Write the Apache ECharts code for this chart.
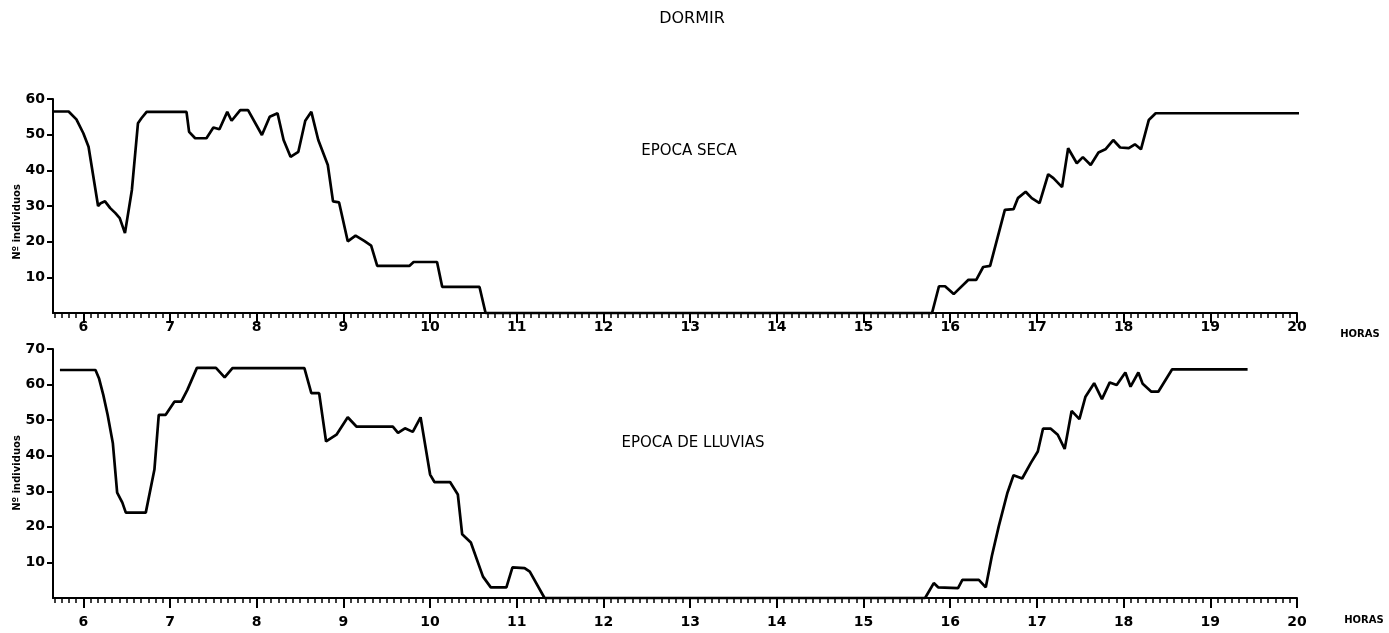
<!DOCTYPE html>
<html>
<head>
<meta charset="utf-8">
<script src="https://cdn.jsdelivr.net/npm/echarts@6/dist/echarts.min.js"></script>
<style>
html,body{margin:0;padding:0;background:#fff;}
#chart{width:1389px;height:633px;}
</style>
</head>
<body>
<div id="chart"></div>
<script>
// ---- Data ----
const hourLabels = [6,7,8,9,10,11,12,13,14,15,16,17,18,19,20];
const secaTicksY = [10,20,30,40,50,60];
const lluviasTicksY = [10,20,30,40,50,60,70];

const secaHours = [5.65,5.83,5.92,6.00,6.06,6.17,6.20,6.25,6.31,6.37,6.42,6.48,6.56,6.63,6.67,6.73,7.19,7.22,7.29,7.42,7.50,7.57,7.66,7.71,7.81,7.90,8.06,8.15,8.24,8.31,8.39,8.48,8.56,8.63,8.71,8.82,8.88,8.95,9.05,9.14,9.24,9.32,9.39,9.76,9.81,10.08,10.14,10.57,10.64,15.79,15.87,15.94,16.04,16.21,16.30,16.38,16.46,16.63,16.73,16.78,16.87,16.94,17.03,17.13,17.19,17.29,17.36,17.46,17.53,17.62,17.71,17.79,17.88,17.96,18.06,18.13,18.20,18.29,18.37,20.48];
const secaValues = [56.5,56.5,54.3,50.4,46.6,30.0,30.8,31.3,29.4,28.0,26.6,22.4,34.5,53.2,54.6,56.4,56.4,50.8,49.0,49.0,52.0,51.5,56.4,53.9,56.9,56.9,49.9,55.0,56.0,48.5,43.8,45.2,53.9,56.4,48.5,41.5,31.3,31.0,20.1,21.7,20.2,18.9,13.2,13.2,14.3,14.3,7.3,7.3,0,0,7.5,7.5,5.3,9.3,9.3,12.9,13.2,28.9,29.1,32.2,34.0,32.2,30.8,38.9,37.8,35.3,46.2,42.0,43.7,41.5,45.0,45.9,48.5,46.4,46.2,47.3,45.9,54.1,56.0,56.0];

const lluviasHours = [5.73,6.14,6.18,6.23,6.28,6.34,6.39,6.45,6.49,6.72,6.82,6.87,6.95,7.05,7.13,7.20,7.31,7.53,7.63,7.72,8.55,8.63,8.72,8.80,8.92,9.05,9.15,9.57,9.63,9.71,9.80,9.89,10.00,10.05,10.23,10.32,10.37,10.47,10.61,10.70,10.88,10.95,11.09,11.15,11.32,15.71,15.81,15.86,16.09,16.14,16.33,16.41,16.48,16.56,16.66,16.73,16.83,16.93,17.01,17.07,17.16,17.24,17.32,17.40,17.49,17.56,17.66,17.75,17.84,17.92,18.02,18.08,18.17,18.22,18.32,18.40,18.56,19.43];
const lluviasValues = [64.1,64.1,61.8,57.1,51.5,43.6,29.6,26.8,24.0,24.0,36.1,51.5,51.5,55.2,55.2,58.5,64.7,64.7,62.0,64.6,64.6,57.6,57.6,44.0,45.9,50.8,48.2,48.2,46.4,47.7,46.7,50.8,34.7,32.6,32.6,29.1,17.9,15.6,6.0,3.0,3.0,8.6,8.4,7.4,0,0,4.2,3.0,2.8,5.1,5.1,3.0,11.8,20.2,29.6,34.5,33.6,38.0,41.2,47.6,47.6,45.9,41.9,52.6,50.3,56.6,60.4,55.9,60.6,59.9,63.4,59.4,63.4,60.2,58.0,58.0,64.3,64.3];

// minor ticks every 5 minutes
const minorTicks = [];
for (let k = 68; k <= 240; k++) { if (k % 12 !== 0) minorTicks.push(k / 12); }

const pair = (xs, ys) => xs.map((x, i) => [x, ys[i]]);

const FONT = 'DejaVu Sans';
const XMIN = 5.65, XMAX = 20;

function majorX(grid, margin) {
  return {
    type: 'value', gridIndex: grid, min: XMIN, max: XMAX, position: 'bottom',
    splitLine: {show: false},
    axisLine: {show: true, onZero: false, lineStyle: {color: '#000', width: 2}},
    axisTick: {show: true, inside: false, customValues: hourLabels, length: 10, lineStyle: {color: '#000', width: 2}},
    axisLabel: {show: true, customValues: hourLabels, margin: margin, color: '#000',
      fontFamily: FONT, fontWeight: 'bold', fontSize: 14}
  };
}
function minorX(grid) {
  return {
    type: 'value', gridIndex: grid, min: XMIN, max: XMAX, position: 'bottom',
    splitLine: {show: false},
    axisLine: {show: false, onZero: false},
    axisTick: {show: true, inside: false, customValues: minorTicks, length: 5, lineStyle: {color: '#000', width: 1.5}},
    axisLabel: {show: false}
  };
}
function yAx(grid, max, ticks) {
  return {
    type: 'value', gridIndex: grid, min: 0, max: max, interval: 10,
    splitLine: {show: false},
    axisLine: {show: true, lineStyle: {color: '#000', width: 2}},
    axisTick: {show: true, customValues: ticks, length: 6, lineStyle: {color: '#000', width: 2}},
    axisLabel: {show: true, customValues: ticks, margin: 8, color: '#000',
      fontFamily: FONT, fontWeight: 'bold', fontSize: 14}
  };
}
function txt(x, y, s, size, weight, extra) {
  return Object.assign({
    type: 'text', x: x, y: y,
    style: {text: s, fill: '#000', font: weight + ' ' + size + 'px "' + FONT + '"',
      textAlign: 'center', textVerticalAlign: 'middle'}
  }, extra || {});
}

const chart = echarts.init(document.getElementById('chart'), null, {renderer: 'canvas'});
chart.setOption({
  backgroundColor: '#fff',
  animation: false,
  grid: [
    {left: 53, right: 92, top: 99, height: 214},
    {left: 53, right: 92, top: 349, height: 249}
  ],
  xAxis: [minorX(0), majorX(0, 7), minorX(1), majorX(1, 17)],
  yAxis: [yAx(0, 60, secaTicksY), yAx(1, 70, lluviasTicksY)],
  series: [
    {name: 'EPOCA SECA', type: 'line', xAxisIndex: 1, yAxisIndex: 0,
     data: pair(secaHours, secaValues), showSymbol: false, clip: false,
     lineStyle: {color: '#000', width: 2.7}},
    {name: 'EPOCA DE LLUVIAS', type: 'line', xAxisIndex: 3, yAxisIndex: 1,
     data: pair(lluviasHours, lluviasValues), showSymbol: false, clip: false,
     lineStyle: {color: '#000', width: 2.7}}
  ],
  graphic: [
    txt(692, 19, 'DORMIR', 16, 'normal'),
    txt(689, 151, 'EPOCA SECA', 15, 'normal'),
    txt(693, 443, 'EPOCA DE LLUVIAS', 15, 'normal'),
    txt(1360, 334, 'HORAS', 10, 'bold'),
    txt(1364, 620, 'HORAS', 10, 'bold'),
    txt(17, 222, 'Nº individuos', 10, 'bold', {rotation: Math.PI / 2}),
    txt(17, 473, 'Nº individuos', 10, 'bold', {rotation: Math.PI / 2})
  ]
});
</script>
</body>
</html>
